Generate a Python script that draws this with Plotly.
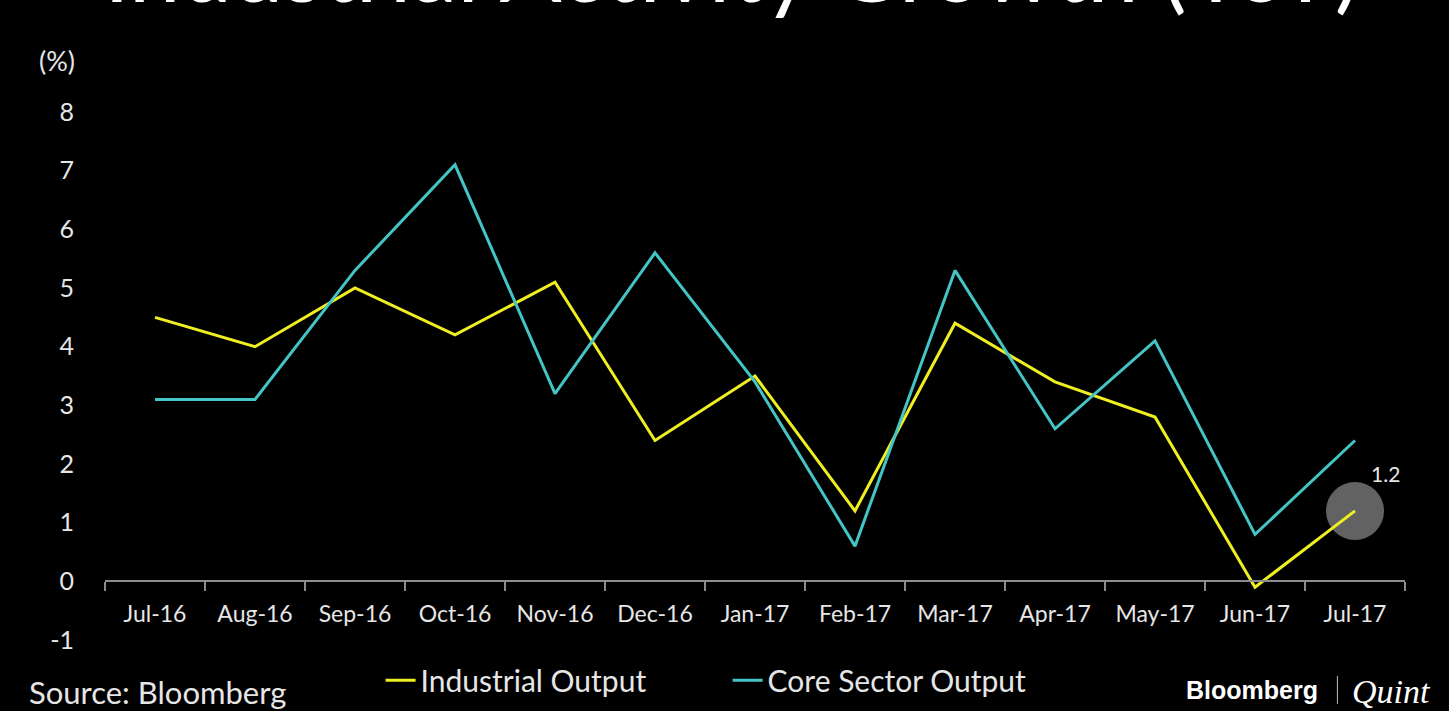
import plotly.graph_objects as go

months = ["Jul-16", "Aug-16", "Sep-16", "Oct-16", "Nov-16", "Dec-16", "Jan-17",
          "Feb-17", "Mar-17", "Apr-17", "May-17", "Jun-17", "Jul-17"]
industrial = [4.5, 4.0, 5.0, 4.2, 5.1, 2.4, 3.5, 1.2, 4.4, 3.4, 2.8, -0.1, 1.2]
core = [3.1, 3.1, 5.3, 7.1, 3.2, 5.6, 3.4, 0.6, 5.3, 2.6, 4.1, 0.8, 2.4]
y_ticks = [-1, 0, 1, 2, 3, 4, 5, 6, 7, 8]
y_tick_text = ["-1", "0", "1", "2", "3", "4", "5", "6", "7", "8"]
highlight_label = "1.2"

YELLOW = "#EEEE22"
CYAN = "#44C4C4"
TXT = "#E6E6E6"
AXIS = "#8C8C8C"
FONT = "Lato, 'Open Sans', sans-serif"

Y_MIN, Y_MAX = -1, 8

fig = go.Figure()

# highlight circle behind last industrial point
fig.add_trace(go.Scatter(
    x=[months[-1]], y=[industrial[-1]], mode="markers",
    marker=dict(size=58, color="rgba(115,115,115,0.85)", line=dict(width=0)),
    showlegend=False, hoverinfo="skip", cliponaxis=False,
))

fig.add_trace(go.Scatter(
    x=months, y=industrial, mode="lines", name="Industrial Output",
    line=dict(color=YELLOW, width=3), cliponaxis=False,
))
fig.add_trace(go.Scatter(
    x=months, y=core, mode="lines", name="Core Sector Output",
    line=dict(color=CYAN, width=3), cliponaxis=False,
))

fig.update_layout(
    width=1449, height=711,
    paper_bgcolor="black", plot_bgcolor="black",
    margin=dict(l=105, r=44, t=112, b=71, autoexpand=False),
    font=dict(family=FONT, color=TXT),
    showlegend=True,
    legend=dict(
        orientation="h", x=0.212, xanchor="left", y=-0.076, yanchor="middle",
        font=dict(size=30, color=TXT, family=FONT),
        itemwidth=30, entrywidth=302, entrywidthmode="pixels",
        bgcolor="rgba(0,0,0,0)", traceorder="normal",
    ),
    xaxis=dict(
        type="category", categoryorder="array", categoryarray=months,
        range=[-0.5, len(months) - 0.5],
        anchor="free", position=(0 - Y_MIN) / (Y_MAX - Y_MIN),
        showgrid=False, zeroline=False,
        showline=True, linecolor=AXIS, linewidth=2,
        tickson="boundaries", ticks="outside", ticklen=9, tickwidth=2, tickcolor=AXIS,
        tickfont=dict(size=23, color=TXT, family=FONT),
        ticklabelstandoff=12,
    ),
    yaxis=dict(
        range=[Y_MIN, Y_MAX], tickvals=y_ticks, ticktext=y_tick_text,
        showgrid=False, zeroline=False,
        showline=False, ticks="",
        tickfont=dict(size=25, color=TXT, family=FONT),
        ticklabelstandoff=30,
    ),
    annotations=[
        dict(text="Industrial Activity Growth (YoY)", xref="paper", yref="paper",
             x=0.482, y=1.0, yshift=88, xanchor="center", yanchor="bottom",
             showarrow=False, font=dict(size=92, color="white", family=FONT)),
        dict(text=highlight_label, xref="x", yref="y", x=months[-1], y=industrial[-1],
             xshift=30, yshift=37, showarrow=False,
             font=dict(size=21, color=TXT, family=FONT)),
        dict(text="(%)", xref="paper", yref="paper", x=0, xshift=-68, y=1, yshift=52,
             xanchor="left", yanchor="middle", showarrow=False,
             font=dict(size=27, color=TXT, family=FONT)),
        dict(text="Source: Bloomberg", xref="paper", yref="paper", x=0, xshift=-78,
             y=0, yshift=-52, xanchor="left", yanchor="middle", showarrow=False,
             font=dict(size=31, color=TXT, family=FONT)),
        dict(text="<b>Bloomberg</b>", xref="paper", yref="paper", x=1, xshift=-85,
             y=0, yshift=-50, xanchor="right", yanchor="middle", showarrow=False,
             font=dict(size=25, color="white", family="'Liberation Sans', Arial, sans-serif")),
        dict(text="<i>Quint</i>", xref="paper", yref="paper", x=1, xshift=-55,
             y=0, yshift=-51, xanchor="left", yanchor="middle", showarrow=False,
             font=dict(size=34, color="white", family="'Liberation Serif', serif")),
    ],
    shapes=[
        dict(type="line", xref="paper", yref="paper", x0=0.948, x1=0.948,
             y0=-0.068, y1=-0.121, line=dict(color="#BBBBBB", width=1)),
    ],
)

fig.write_html("out.html")
